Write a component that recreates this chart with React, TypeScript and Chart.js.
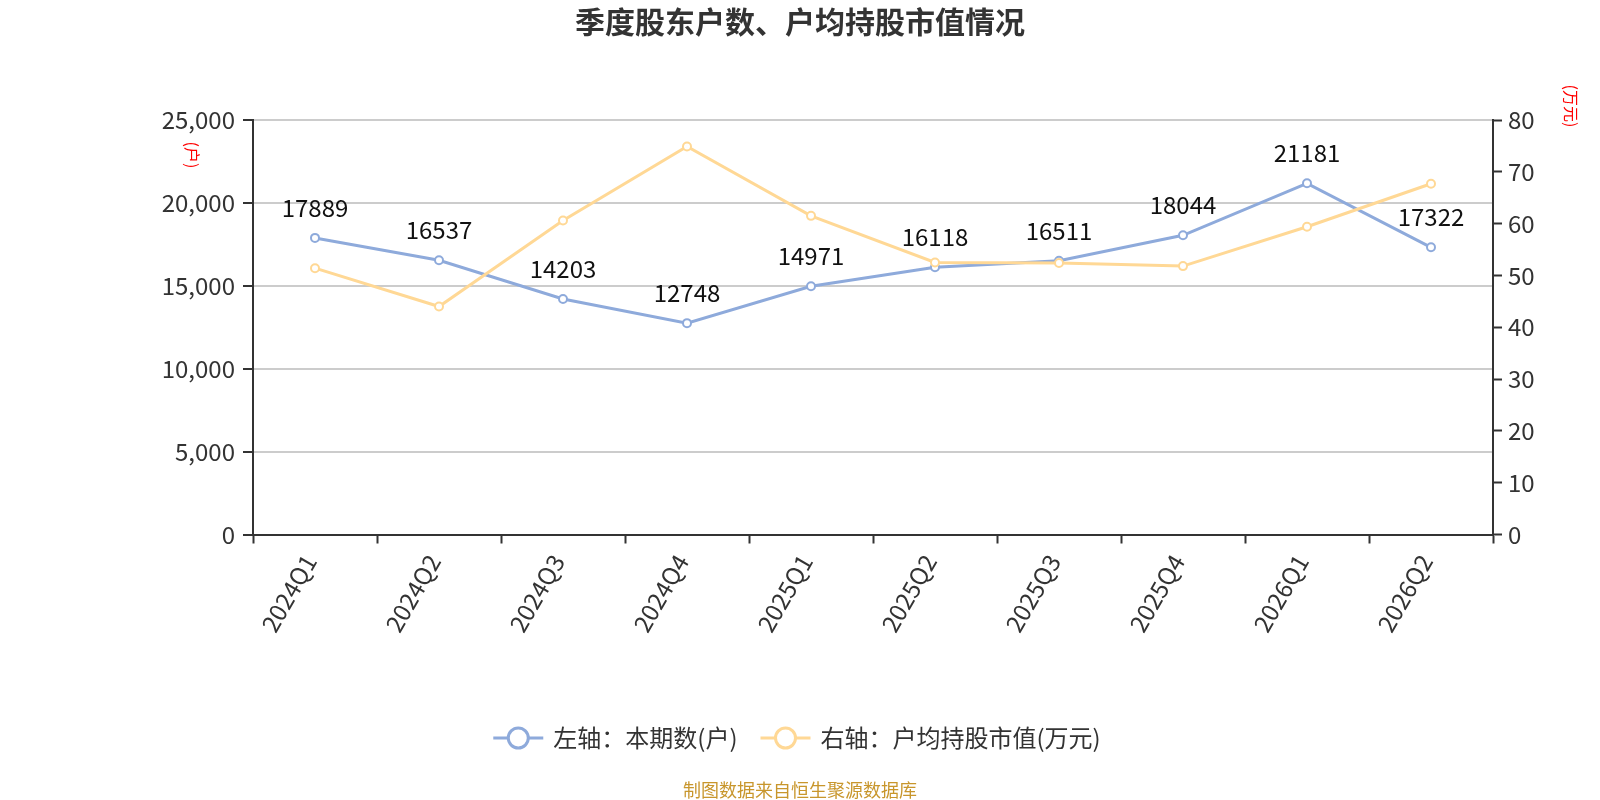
import React, { useEffect, useRef } from 'react';
import { Chart, registerables } from 'chart.js';

Chart.register(...registerables);

// 数据
const quarters = ['2024Q1', '2024Q2', '2024Q3', '2024Q4', '2025Q1', '2025Q2', '2025Q3', '2025Q4', '2026Q1', '2026Q2'];
const holders = [17889, 16537, 14203, 12748, 14971, 16118, 16511, 18044, 21181, 17322];
const avgValue = [51.4, 44.0, 60.6, 74.9, 61.5, 52.5, 52.4, 51.8, 59.4, 67.7];

const legendLabels = ['左轴：本期数(户)', '右轴：户均持股市值(万元)'];
const chartTitle = '季度股东户数、户均持股市值情况';
const sourceText = '制图数据来自恒生聚源数据库';

const FONT = "'Noto Sans CJK SC', 'Noto Sans', sans-serif";
const BLUE = '#8eaadb';
const YELLOW = '#ffd895';
const AXIS = '#333333';
const GRID = '#cccccc';

const extrasPlugin = {
  id: 'extras',
  afterDatasetsDraw(chart: any) {
    const { ctx } = chart;
    const meta = chart.getDatasetMeta(0);
    ctx.save();
    ctx.font = `24px ${FONT}`;
    ctx.fillStyle = '#111';
    ctx.textAlign = 'center';
    ctx.textBaseline = 'middle';
    meta.data.forEach((pt: any, i: number) => {
      ctx.fillText(String(holders[i]), pt.x, pt.y - 30);
    });
    ctx.restore();
  },
  afterDraw(chart: any) {
    const { ctx, chartArea } = chart;
    ctx.save();

    // 标题
    ctx.font = `bold 30px ${FONT}`;
    ctx.fillStyle = '#333';
    ctx.textAlign = 'center';
    ctx.textBaseline = 'middle';
    ctx.fillText(chartTitle, 800, 22);

    // 轴标题（红色，竖排）
    ctx.font = `16px ${FONT}`;
    ctx.fillStyle = '#ff0000';
    const drawRotated = (text: string, x: number, y: number) => {
      ctx.save();
      ctx.translate(x, y);
      ctx.rotate(Math.PI / 2);
      ctx.fillText(text, 0, 0);
      ctx.restore();
    };
    drawRotated('(户)', chartArea.left - 61, chartArea.top + 35);
    drawRotated('(万元)', chartArea.right + 78, chartArea.top - 14);

    // 图例
    ctx.font = `24px ${FONT}`;
    const colors = [BLUE, YELLOW];
    const symW = 50;
    const symGap = 10;
    const itemGap = 23;
    const widths = legendLabels.map((l) => ctx.measureText(l).width);
    const total = widths.reduce((a, w) => a + symW + symGap + w, 0) + itemGap * (legendLabels.length - 1);
    let x = 797 - total / 2;
    const ly = 738;
    legendLabels.forEach((label, i) => {
      ctx.strokeStyle = colors[i];
      ctx.lineWidth = 3;
      ctx.beginPath();
      ctx.moveTo(x, ly);
      ctx.lineTo(x + symW, ly);
      ctx.stroke();
      ctx.beginPath();
      ctx.arc(x + symW / 2, ly, 10, 0, Math.PI * 2);
      ctx.fillStyle = '#fff';
      ctx.fill();
      ctx.stroke();
      ctx.fillStyle = '#333';
      ctx.textAlign = 'left';
      ctx.fillText(label, x + symW + symGap, ly);
      x += symW + symGap + widths[i] + itemGap;
    });

    // 来源
    ctx.font = `18px ${FONT}`;
    ctx.fillStyle = '#c8962c';
    ctx.textAlign = 'center';
    ctx.fillText(sourceText, 800, 790);

    ctx.restore();
  },
};

const App: React.FC = () => {
  const canvasRef = useRef<HTMLCanvasElement>(null);

  useEffect(() => {
    if (!canvasRef.current) return;
    const chart = new Chart(canvasRef.current, {
      type: 'line',
      data: {
        labels: quarters,
        datasets: [
          {
            label: legendLabels[0],
            data: holders,
            yAxisID: 'y',
            borderColor: BLUE,
            backgroundColor: '#fff',
            borderWidth: 3,
            pointRadius: 4,
            pointBorderWidth: 2,
            pointBackgroundColor: '#fff',
            pointBorderColor: BLUE,
            order: 1,
          },
          {
            label: legendLabels[1],
            data: avgValue,
            yAxisID: 'y1',
            borderColor: YELLOW,
            backgroundColor: '#fff',
            borderWidth: 3,
            pointRadius: 4,
            pointBorderWidth: 2,
            pointBackgroundColor: '#fff',
            pointBorderColor: YELLOW,
            order: 0,
          },
        ],
      },
      options: {
        responsive: false,
        animation: false,
        layout: { padding: { top: 120, left: 0, right: 0, bottom: 0 } },
        plugins: {
          legend: { display: false },
          title: { display: false },
          tooltip: { enabled: false },
        },
        scales: {
          x: {
            offset: true,
            grid: {
              offset: true,
              drawOnChartArea: false,
              tickColor: AXIS,
              tickLength: 9,
              tickWidth: 2,
            },
            border: { color: AXIS, width: 2 },
            ticks: {
              color: '#333',
              font: { family: FONT, size: 24 },
              minRotation: 60,
              maxRotation: 60,
              padding: 6,
              labelOffset: -5,
            },
            afterFit: (s: any) => {
              s.height = 265.5;
            },
          },
          y: {
            position: 'left',
            min: 0,
            max: 25000,
            ticks: {
              stepSize: 5000,
              color: '#333',
              font: { family: FONT, size: 24 },
              padding: 8,
              callback: (v: any) => Number(v).toLocaleString('en-US'),
            },
            grid: {
              color: GRID,
              lineWidth: 2,
              tickColor: AXIS,
              tickLength: 10,
              tickWidth: 2,
            },
            border: { color: AXIS, width: 2 },
            afterFit: (s: any) => {
              s.width = 253;
            },
          },
          y1: {
            position: 'right',
            min: 0,
            max: 80,
            ticks: {
              stepSize: 10,
              color: '#333',
              font: { family: FONT, size: 24 },
              padding: 6,
            },
            grid: {
              drawOnChartArea: false,
              tickColor: AXIS,
              tickLength: 9,
              tickWidth: 2,
            },
            border: { color: AXIS, width: 2 },
            afterFit: (s: any) => {
              s.width = 107;
            },
          },
        },
      },
      plugins: [extrasPlugin],
    });
    return () => chart.destroy();
  }, []);

  return (
    <div style={{ position: 'absolute', left: 0, top: 0, width: 1600, height: 800, background: '#fff' }}>
      <canvas ref={canvasRef} width={1600} height={800} />
    </div>
  );
};

export default App;
